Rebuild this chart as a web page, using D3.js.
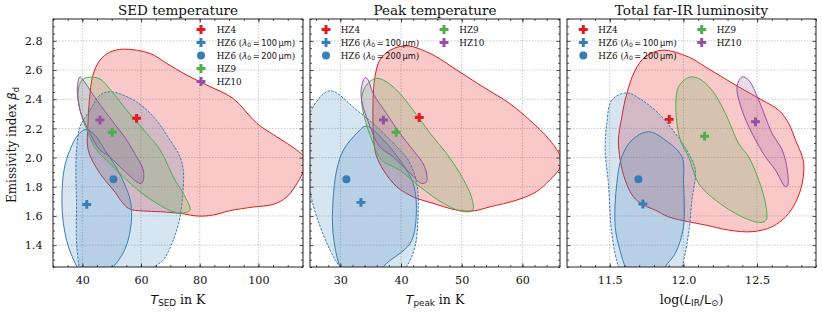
<!DOCTYPE html>
<html><head><meta charset="utf-8">
<script src="https://cdn.jsdelivr.net/npm/d3@7"></script>
<style>body{margin:0;background:#fff}svg{display:block}</style>
</head><body><svg id="c" width="822" height="313"></svg>
<script>
// ---------- data ----------
const sources = ["HZ4","HZ6a","HZ6b","HZ9","HZ10"];
const sourceColors = ["#e41a1c","#377eb8","#377eb8","#4daf4a","#984ea3"];
const sourceShapes = ["plus","plus","circle","plus","plus"];
const yTicks = [1.4,1.6,1.8,2.0,2.2,2.4,2.6,2.8];
const sedTicks = [40,60,80,100];
const peakTicks = [30,40,50,60];
const lumTicks = [11.5,12.0,12.5];
const titles = ["SED temperature","Peak temperature","Total far-IR luminosity"];

// best-fit points (order = sources)
const sedPoints  = [[58.5,2.269],[41.5,1.679],[50.6,1.851],[50.2,2.173],[46.0,2.257]];
const peakPoints = [[43.0,2.275],[33.4,1.693],[31.0,1.851],[39.2,2.173],[37.1,2.257]];
const lumPoints  = [[11.904,2.262],[11.725,1.682],[11.695,1.851],[12.144,2.147],[12.489,2.245]];

// contours (x, beta)
const sedHZ4 = [[53.97,2.743],[63.1,2.714],[68.8,2.645],[75.6,2.565],[82.4,2.497],[91.4,2.405],[99.5,2.234],[106.3,2.142],[113.1,2.051],[116.5,1.98],[115,1.89],[109.7,1.731],[105.0,1.679],[98.2,1.661],[90.3,1.636],[84.5,1.606],[79.5,1.599],[73.3,1.618],[66.5,1.629],[60.8,1.634],[55.7,1.652],[50.6,1.777],[46.0,1.892],[42.0,2.051],[41.9,2.223],[42.4,2.394],[43.6,2.565],[46.0,2.668],[49.4,2.723]];
const sedHZ6a = [[41.25,2.193],[44.3,2.154],[47.7,2.05],[51.1,1.949],[54.5,1.812],[56.3,1.709],[56.8,1.594],[55.6,1.434],[53.5,1.331],[50.5,1.25],[46.0,1.16],[40.9,1.16],[38.2,1.25],[35.1,1.40],[33.4,1.572],[33.1,1.777],[34.1,1.949],[36.5,2.086],[38.5,2.154]];
const sedHZ6b = [[49.4,2.451],[46.0,2.428],[42.6,2.325],[39.2,2.211],[38.1,2.074],[37.8,1.914],[38.0,1.709],[38.2,1.366],[39.9,1.195],[45,1.09],[59.7,1.09],[64.8,1.252],[67.6,1.298],[71.0,1.435],[73.3,1.594],[74.4,1.80],[74.4,1.914],[73.3,2.005],[69.9,2.12],[64.3,2.279],[57.5,2.394]];
const sedHZ9 = [[42.6,2.551],[46.0,2.538],[50.5,2.442],[55.1,2.325],[61.9,2.166],[66.5,2.052],[71.0,1.868],[75.0,1.732],[76.7,1.640],[75.0,1.622],[71.0,1.629],[61.9,1.732],[55.1,1.846],[49.4,1.960],[44.9,2.051],[42.0,2.166],[39.2,2.325],[38.6,2.462],[39.9,2.531]];
const sedHZ10 = [[39.2,2.553],[40.3,2.531],[44.9,2.394],[50.0,2.257],[55.1,2.120],[58.5,2.005],[60.8,1.914],[60.6,1.834],[59.7,1.823],[54.0,1.914],[49.4,2.005],[46.0,2.051],[42.6,2.166],[39.2,2.325],[38.3,2.485]];

const peakHZ4 = [[40.9,2.766],[44.8,2.714],[49.2,2.6],[53.5,2.485],[57.9,2.371],[61.2,2.257],[64.5,2.12],[66.3,2.0],[66.2,1.93],[64.5,1.846],[62.3,1.766],[59.1,1.709],[54.7,1.663],[51.9,1.634],[49.2,1.64],[45.3,1.686],[42.0,1.731],[39.3,1.8],[37.1,1.914],[36.0,2.005],[35.7,2.051],[35.4,2.211],[35.4,2.394],[35.7,2.553],[36.5,2.668],[38.2,2.736]];
const peakHZ6a = [[34.3,2.216],[32.7,2.166],[30.5,2.051],[29.4,1.914],[28.8,1.709],[28.8,1.481],[29.9,1.252],[31.5,1.12],[35.5,1.12],[37.1,1.252],[41.5,1.412],[42.5,1.594],[42.0,1.823],[39.8,1.983],[37.1,2.12]];
const peakHZ6b = [[28.3,2.458],[25.5,2.348],[24.3,2.2],[23.8,2.0],[24.8,1.80],[26.1,1.594],[28.3,1.366],[29.9,1.25],[32,1.12],[38,1.12],[40.9,1.252],[42.3,1.389],[42.8,1.594],[42.6,1.823],[41.2,1.983],[39.3,2.074],[36.0,2.211],[32.7,2.325]];
const peakHZ9 = [[35.7,2.542],[34.1,2.485],[33.5,2.394],[34.1,2.257],[35.2,2.12],[36.8,1.983],[39.8,1.914],[43.1,1.8],[47.0,1.686],[50.3,1.629],[51.8,1.64],[51.6,1.731],[49.7,1.892],[47.5,2.029],[44.8,2.166],[42.0,2.325],[39.3,2.462],[37.1,2.531]];
const peakHZ10 = [[34.1,2.549],[33.5,2.485],[33.5,2.394],[34.9,2.211],[36.5,2.074],[38.7,2.005],[41.5,1.892],[43.4,1.823],[44.2,1.834],[43.9,1.937],[42.0,2.051],[39.8,2.166],[37.6,2.303],[35.4,2.44],[34.6,2.531]];

const lumHZ4 = [[11.854,2.736],[12.035,2.69],[12.149,2.622],[12.262,2.553],[12.375,2.485],[12.534,2.394],[12.647,2.325],[12.715,2.234],[12.761,2.12],[12.807,2.005],[12.818,1.937],[12.795,1.777],[12.715,1.618],[12.602,1.526],[12.466,1.492],[12.307,1.503],[12.149,1.538],[12.035,1.56],[11.899,1.594],[11.809,1.64],[11.729,1.675],[11.661,1.731],[11.605,1.846],[11.571,1.983],[11.559,2.12],[11.582,2.279],[11.616,2.44],[11.673,2.6],[11.741,2.69]];
const lumHZ6a = [[11.763,2.177],[11.65,2.12],[11.582,2.005],[11.548,1.823],[11.537,1.526],[11.582,1.32],[11.605,1.252],[11.65,1.15],[11.83,1.15],[11.877,1.252],[11.945,1.344],[12.001,1.526],[12.001,1.823],[11.99,2.005],[11.877,2.12]];
const lumHZ6b = [[11.616,2.444],[11.514,2.394],[11.48,2.234],[11.469,2.051],[11.491,1.823],[11.514,1.481],[11.559,1.252],[11.62,1.12],[11.93,1.12],[11.99,1.252],[12.035,1.481],[12.058,1.709],[12.081,1.914],[12.035,2.029],[11.945,2.166],[11.831,2.303],[11.718,2.394]];
const lumHZ9 = [[12.035,2.549],[11.967,2.485],[11.949,2.325],[11.979,2.12],[12.035,2.005],[12.103,1.823],[12.217,1.709],[12.398,1.594],[12.523,1.555],[12.562,1.572],[12.557,1.686],[12.511,1.846],[12.443,2.005],[12.375,2.097],[12.285,2.303],[12.194,2.462],[12.103,2.542]];
const lumHZ10 = [[12.398,2.553],[12.364,2.485],[12.398,2.325],[12.466,2.166],[12.557,2.005],[12.625,1.914],[12.693,1.8],[12.709,1.812],[12.705,1.914],[12.671,2.051],[12.602,2.166],[12.511,2.394],[12.443,2.531]];

// ---------- drawing ----------
const svg = d3.select("#c");
const SERIF = "'DejaVu Serif', serif";
const SANS = "'DejaVu Sans', sans-serif";
const TOP = 19, BOT = 267;
const y = d3.scaleLinear().domain([1.25,2.95]).range([BOT, TOP]);
const yMinor = d3.range(1.25, 2.951, 0.05).map(v=>+v.toFixed(2)).filter(v=>!yTicks.some(t=>Math.abs(t-v)<1e-6));

const panels = [
  {left:53, right:303, domain:[30,115.2], ticks:sedTicks, minorStep:5, fmt:d3.format("d"),
   contours:[sedHZ4,sedHZ6a,sedHZ6b,sedHZ9,sedHZ10], points:sedPoints,
   legend:{cols:[[0,1,2,3,4]], mx:[201], tx:[216.7]}},
  {left:310, right:560, domain:[25,66.2], ticks:peakTicks, minorStep:2, fmt:d3.format("d"),
   contours:[peakHZ4,peakHZ6a,peakHZ6b,peakHZ9,peakHZ10], points:peakPoints,
   legend:{cols:[[0,1,2],[3,4]], mx:[326,444], tx:[340.7,459.3]}},
  {left:567, right:816, domain:[11.21,12.90], ticks:lumTicks, minorStep:0.1, fmt:d3.format(".1f"),
   contours:[lumHZ4,lumHZ6a,lumHZ6b,lumHZ9,lumHZ10], points:lumPoints,
   legend:{cols:[[0,1,2],[3,4]], mx:[583.3,701.7], tx:[598.3,716.7]}}
];

function marker(g, shape, cx, cy, color){
  if(shape==="circle"){
    g.append("circle").attr("cx",cx).attr("cy",cy).attr("r",4).attr("fill",color);
  } else {
    g.append("path").attr("d", d3.symbol(d3.symbolCross, 44)()).attr("transform",`translate(${cx},${cy})`).attr("fill",color);
  }
}

function legendText(t, i){
  const name = sources[i];
  if(name==="HZ6a"||name==="HZ6b"){
    t.append("tspan").text("HZ6 (");
    t.append("tspan").attr("font-family",SANS).attr("font-style","italic").attr("font-size","8.4px").text("λ");
    t.append("tspan").attr("font-family",SANS).attr("font-size","6px").attr("dy","1.5").text("0");
    t.append("tspan").attr("font-family",SANS).attr("font-size","8.2px").attr("dy","-1.5").text(name==="HZ6a"?"\u2009=\u2009100\u2009µm":"\u2009=\u2009200\u2009µm");
    t.append("tspan").text(")");
  } else t.text(name);
}

panels.forEach((p, pi) => {
  const x = d3.scaleLinear().domain(p.domain).range([p.left, p.right]);
  const g = svg.append("g");
  const cid = "clip"+pi;
  svg.append("clipPath").attr("id",cid).append("rect")
    .attr("x",p.left).attr("y",TOP).attr("width",p.right-p.left).attr("height",BOT-TOP);

  // grid
  const grid = g.append("g").attr("stroke","#bdbdbd").attr("stroke-width",0.8).attr("stroke-dasharray","1.5,1.5");
  p.ticks.forEach(v=>grid.append("line").attr("x1",x(v)).attr("x2",x(v)).attr("y1",TOP).attr("y2",BOT));
  yTicks.forEach(v=>grid.append("line").attr("x1",p.left).attr("x2",p.right).attr("y1",y(v)).attr("y2",y(v)));

  // contours
  const line = d3.line().x(d=>x(d[0])).y(d=>y(d[1])).curve(d3.curveCatmullRomClosed.alpha(0.5));
  const cg = g.append("g").attr("clip-path",`url(#${cid})`);
  const order = [0,2,1,3,4];
  order.forEach(i=>{
    cg.append("path").attr("d", line(p.contours[i]))
      .attr("fill", sourceColors[i]).attr("fill-opacity", i===0?0.24:0.2)
      .attr("stroke", sourceColors[i]).attr("stroke-width", 1)
      .attr("stroke-dasharray", i===2 ? "2.5,1.3" : null);
  });

  // points
  const mg = g.append("g").attr("clip-path",`url(#${cid})`);
  p.points.forEach((d,i)=> marker(mg, sourceShapes[i], x(d[0]), y(d[1]), sourceColors[i]));

  // axes
  const minors = d3.range(Math.ceil(p.domain[0]/p.minorStep - 1e-6), Math.floor(p.domain[1]/p.minorStep + 1e-6)+1)
    .map(k=>+(k*p.minorStep).toFixed(3));
  const mkAxis = (axisFn, scale, pos, vals, size, labels) => {
    const a = axisFn(scale).tickValues(vals).tickSize(-size).tickPadding(9.5);
    if(!labels) a.tickFormat("");
    else a.tickFormat(labels);
    const ag = g.append("g").attr("transform", pos).call(a);
    ag.select(".domain").remove();
    ag.selectAll("line").attr("stroke","#222").attr("stroke-width",0.8);
    ag.selectAll("text").attr("font-family",SERIF).attr("font-size","11.2px").attr("fill","#111");
    return ag;
  };
  mkAxis(d3.axisBottom, x, `translate(0,${BOT})`, p.ticks, 3.5, p.fmt);
  mkAxis(d3.axisBottom, x, `translate(0,${BOT})`, minors, 2, null);
  mkAxis(d3.axisTop, x, `translate(0,${TOP})`, p.ticks, 3.5, null);
  mkAxis(d3.axisTop, x, `translate(0,${TOP})`, minors, 2, null);
  const yl = mkAxis(d3.axisLeft, y, `translate(${p.left},0)`, yTicks, 3.5, pi===0 ? d3.format(".1f") : null);
  yl.selectAll("text").attr("dx","-1");
  mkAxis(d3.axisLeft, y, `translate(${p.left},0)`, yMinor, 2, null);
  mkAxis(d3.axisRight, y, `translate(${p.right},0)`, yTicks, 3.5, null);
  mkAxis(d3.axisRight, y, `translate(${p.right},0)`, yMinor, 2, null);

  // frame
  g.append("rect").attr("x",p.left).attr("y",TOP).attr("width",p.right-p.left).attr("height",BOT-TOP)
    .attr("fill","none").attr("stroke","#222").attr("stroke-width",1);

  // title
  g.append("text").attr("x",(p.left+p.right)/2).attr("y",14.5).attr("text-anchor","middle")
    .attr("font-family",SERIF).attr("font-size","13.5px").attr("fill","#111").text(titles[pi]);

  // legend
  p.legend.cols.forEach((col, ci)=>{
    col.forEach((i, ri)=>{
      const ly = 29.5 + ri*13;
      marker(g, sourceShapes[i], p.legend.mx[ci], ly, sourceColors[i]);
      const t = g.append("text").attr("x",p.legend.tx[ci]).attr("y",ly).attr("dy","0.35em")
        .attr("font-family",SERIF).attr("font-size","8.8px").attr("fill","#111");
      legendText(t, i);
    });
  });

  // x label
  const xl = g.append("text").attr("x",(p.left+p.right)/2).attr("y",303.5).attr("text-anchor","middle")
    .attr("font-family",SERIF).attr("font-size","12.5px").attr("fill","#111");
  if(pi<2){
    xl.append("tspan").attr("font-family",SANS).attr("font-style","italic").text("T");
    xl.append("tspan").attr("font-family",SANS).attr("font-size","8.8px").attr("dy","2.5").text(pi===0?"SED":"peak");
    xl.append("tspan").attr("dy","-2.5").text(" in K");
  } else {
    xl.append("tspan").text("log(");
    xl.append("tspan").attr("font-family",SANS).attr("font-style","italic").text("L");
    xl.append("tspan").attr("font-family",SANS).attr("font-size","8.8px").attr("dy","2.5").text("IR");
    xl.append("tspan").attr("font-family",SANS).attr("dy","-2.5").text("/L");
    xl.append("tspan").attr("font-family",SANS).attr("font-size","8.8px").attr("dy","2.5").text("⊙");
    xl.append("tspan").attr("dy","-2.5").text(")");
  }
});

// y label
const ylab = svg.append("text").attr("transform","translate(16,145) rotate(-90)").attr("text-anchor","middle")
  .attr("font-family",SERIF).attr("font-size","12px").attr("fill","#111");
ylab.append("tspan").text("Emissivity index ");
ylab.append("tspan").attr("font-family",SANS).attr("font-style","italic").text("β");
ylab.append("tspan").attr("font-family",SANS).attr("font-size","8.5px").attr("dy","2.5").text("d");
</script>
</body></html>
